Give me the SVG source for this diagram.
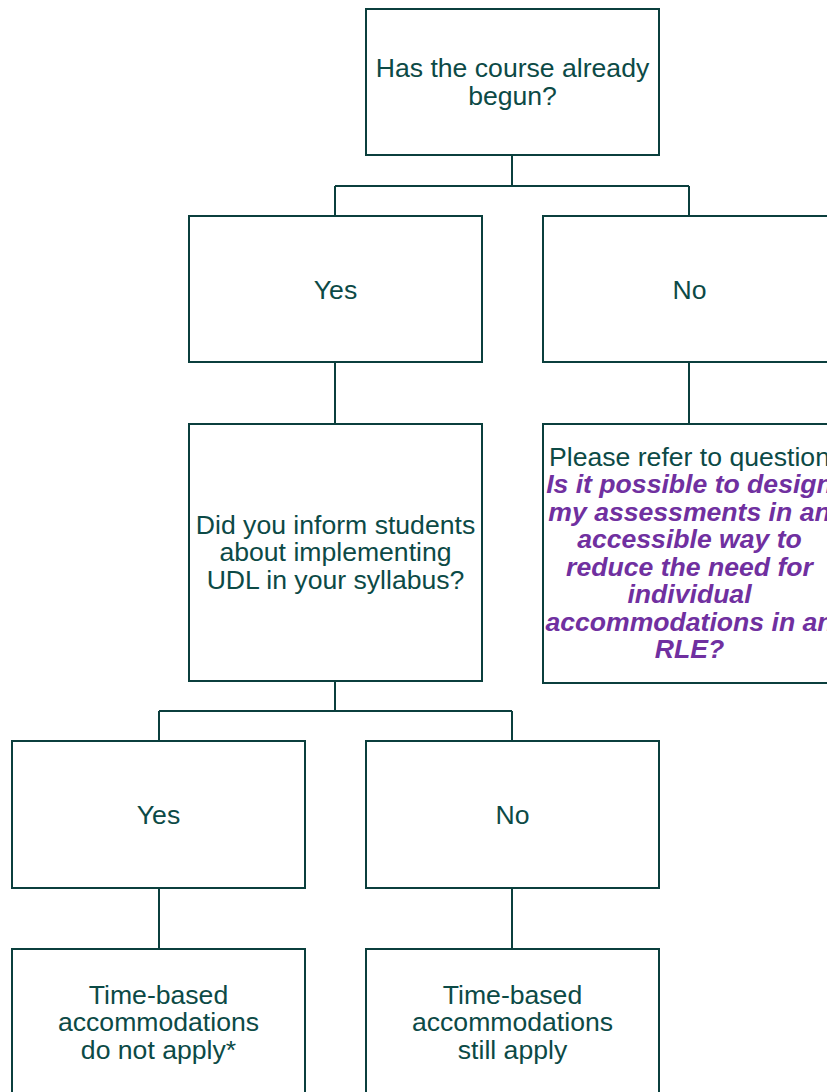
<svg xmlns="http://www.w3.org/2000/svg" width="827" height="1092" viewBox="0 0 827 1092">
<style>
.box{fill:#ffffff;stroke:#0b3f3d;stroke-width:2}
.ln{fill:none;stroke:#0b3f3d;stroke-width:2}
.t{font-family:"Liberation Sans",Arial,sans-serif;font-size:26.6px;fill:#0c4a46;text-anchor:middle}
.p{font-family:"Liberation Sans",Arial,sans-serif;font-size:26.6px;fill:#7030a0;font-weight:bold;font-style:italic;text-anchor:middle}
</style>
<rect width="827" height="1092" fill="#ffffff"/>
<g id="connectors">
<path class="ln" d="M512 155V186M335 186H689M335 186V216M689 186V216"/>
<path class="ln" d="M335 362V424M689 362V424"/>
<path class="ln" d="M335 681V711M159 711H512M159 711V741M512 711V741"/>
<path class="ln" d="M159 888V949M512 888V949"/>
</g>
<g id="n-start">
<rect class="box" x="366" y="9" width="293" height="146"/>
<text class="t" x="512.5" y="77">Has the course already</text>
<text class="t" x="512.5" y="104.5">begun?</text>
</g>
<g id="n-yes1">
<rect class="box" x="189" y="216" width="293" height="146"/>
<text class="t" x="335.5" y="298.5">Yes</text>
</g>
<g id="n-no1">
<rect class="box" x="543" y="216" width="293" height="146"/>
<text class="t" x="689.5" y="298.5">No</text>
</g>
<g id="n-inform">
<rect class="box" x="189" y="424" width="293" height="257"/>
<text class="t" x="335.5" y="533.5">Did you inform students</text>
<text class="t" x="335.5" y="561">about implementing</text>
<text class="t" x="335.5" y="588.5">UDL in your syllabus?</text>
</g>
<g id="n-refer">
<rect class="box" x="543" y="424" width="293" height="259"/>
<text class="t" x="689.5" y="465.5">Please refer to question</text>
<text class="p" x="689.5" y="493">Is it possible to design</text>
<text class="p" x="689.5" y="520.5">my assessments in an</text>
<text class="p" x="689.5" y="548">accessible way to</text>
<text class="p" x="689.5" y="575.5">reduce the need for</text>
<text class="p" x="689.5" y="603">individual</text>
<text class="p" x="689.5" y="630.5">accommodations in an</text>
<text class="p" x="689.5" y="658">RLE?</text>
</g>
<g id="n-yes2">
<rect class="box" x="12" y="741" width="293" height="147"/>
<text class="t" x="158.5" y="823.5">Yes</text>
</g>
<g id="n-no2">
<rect class="box" x="366" y="741" width="293" height="147"/>
<text class="t" x="512.5" y="823.5">No</text>
</g>
<g id="n-notapply">
<rect class="box" x="12" y="949" width="293" height="146"/>
<text class="t" x="158.5" y="1003.5">Time-based</text>
<text class="t" x="158.5" y="1031">accommodations</text>
<text class="t" x="158.5" y="1058.5">do not apply*</text>
</g>
<g id="n-stillapply">
<rect class="box" x="366" y="949" width="293" height="146"/>
<text class="t" x="512.5" y="1003.5">Time-based</text>
<text class="t" x="512.5" y="1031">accommodations</text>
<text class="t" x="512.5" y="1058.5">still apply</text>
</g>
</svg>
